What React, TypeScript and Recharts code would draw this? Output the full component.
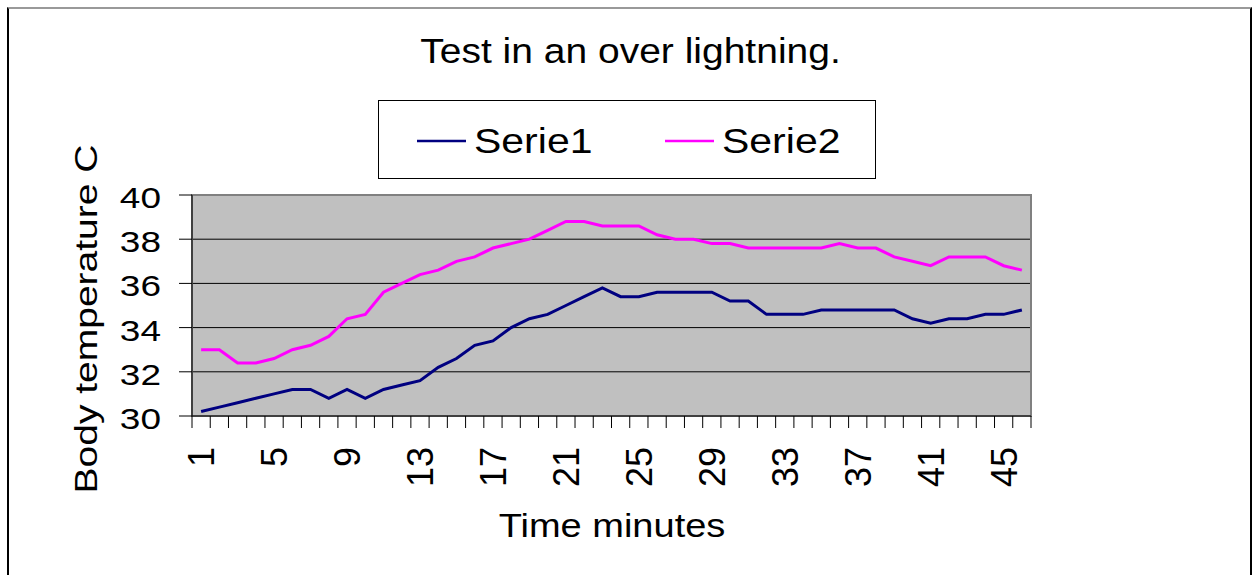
import { LineChart, Line, XAxis, YAxis, CartesianGrid, Legend, ReferenceArea } from 'recharts'

const FONT = '"Liberation Sans", Arial, sans-serif'

// minutes 1..46
const minutes = [
  1, 2, 3, 4, 5, 6, 7, 8, 9, 10, 11, 12, 13, 14, 15, 16, 17, 18, 19, 20, 21, 22, 23,
  24, 25, 26, 27, 28, 29, 30, 31, 32, 33, 34, 35, 36, 37, 38, 39, 40, 41, 42, 43, 44, 45, 46,
]
const serie1 = [
  30.2, 30.4, 30.6, 30.8, 31.0, 31.2, 31.2, 30.8, 31.2, 30.8, 31.2, 31.4, 31.6, 32.2, 32.6, 33.2,
  33.4, 34.0, 34.4, 34.6, 35.0, 35.4, 35.8, 35.4, 35.4, 35.6, 35.6, 35.6, 35.6, 35.2, 35.2, 34.6,
  34.6, 34.6, 34.8, 34.8, 34.8, 34.8, 34.8, 34.4, 34.2, 34.4, 34.4, 34.6, 34.6, 34.8,
]
const serie2 = [
  33.0, 33.0, 32.4, 32.4, 32.6, 33.0, 33.2, 33.6, 34.4, 34.6, 35.6, 36.0, 36.4, 36.6, 37.0, 37.2,
  37.6, 37.8, 38.0, 38.4, 38.8, 38.8, 38.6, 38.6, 38.6, 38.2, 38.0, 38.0, 37.8, 37.8, 37.6, 37.6,
  37.6, 37.6, 37.6, 37.8, 37.6, 37.6, 37.2, 37.0, 36.8, 37.2, 37.2, 37.2, 36.8, 36.6,
]
const xTickLabels = [1, 5, 9, 13, 17, 21, 25, 29, 33, 37, 41, 45]
const yTicks = [30, 32, 34, 36, 38, 40]

const data = minutes.map((m, i) => ({ minute: m, Serie1: serie1[i], Serie2: serie2[i] }))
// tick marks sit between the categories
const boundaries = [...minutes.map((m) => m - 0.5), minutes[minutes.length - 1] + 0.5]
const xDomain = [boundaries[0], boundaries[boundaries.length - 1]]

function YTick({ x, y, payload }: any) {
  return (
    <text transform={`translate(${x},${y + 13}) scale(1,0.82)`} textAnchor="end"
      fontSize={37} fontFamily={FONT} fill="#000">
      {payload.value}
    </text>
  )
}

function XTick({ x, y, payload }: any) {
  return (
    <text transform={`translate(${x + 13},${y + 19}) rotate(-90)`} textAnchor="end"
      fontSize={36} fontFamily={FONT} fill="#000">
      {payload.value}
    </text>
  )
}

function NoLabel() {
  return null
}

function LegendBox({ payload }: any) {
  return (
    <svg width={498} height={79} style={{ display: 'block' }}>
      <rect x={0.5} y={0.5} width={497} height={78} fill="#fff" stroke="#000" />
      {(payload ?? []).map((p: any, i: number) => {
        const lx = 39 + i * 248
        return (
          <g key={p.value}>
            <line x1={lx} x2={lx + 49} y1={41} y2={41} stroke={p.color} strokeWidth={2.5} />
            <text transform={`translate(${lx + 57},53) scale(1,0.85)`} fontSize={41}
              fontFamily={FONT} fill="#000">
              {p.value}
            </text>
          </g>
        )
      })}
    </svg>
  )
}

export default function App() {
  return (
    <div style={{ position: 'absolute', left: 0, top: 0, width: 1253, height: 575, overflow: 'hidden', background: '#fff' }}>
      <div style={{
        position: 'absolute', left: 7, top: 7, width: 1245, height: 600, boxSizing: 'border-box',
        borderLeft: '2px solid #000', borderRight: '2px solid #000', borderTop: '2px solid #999',
      }} />
      <LineChart width={1253} height={575} data={data}
        margin={{ top: 195, right: 222, left: 92, bottom: 47 }}>
        <CartesianGrid xAxisId="xb" vertical={false} stroke="#000" fill="#C0C0C0" fillOpacity={1} />
        <XAxis xAxisId="xb" dataKey="minute" type="number" domain={xDomain} ticks={xTickLabels}
          interval={0} height={100} tickLine={false} axisLine={false} tickSize={0} tickMargin={0}
          tick={<XTick />} />
        <XAxis xAxisId="xa" dataKey="minute" type="number" domain={xDomain} ticks={boundaries}
          interval={0} height={12} tick={<NoLabel />} tickSize={12} stroke="#000" />
        <YAxis domain={[30, 40]} ticks={yTicks} interval={0} width={100} tickSize={13} tickMargin={18}
          stroke="#000" tick={<YTick />} />
        <ReferenceArea xAxisId="xb" x1={xDomain[0]} x2={xDomain[1]} y1={30} y2={40}
          fill="none" stroke="#808080" strokeWidth={2} ifOverflow="visible" />
        <Legend layout="horizontal" verticalAlign="middle" align="center" content={<LegendBox />}
          wrapperStyle={{ left: 378, top: 100, width: 498, height: 79 }} />
        <Line xAxisId="xb" dataKey="Serie1" stroke="#000080" strokeWidth={3} dot={false}
          type="linear" isAnimationActive={false} />
        <Line xAxisId="xb" dataKey="Serie2" stroke="#FF00FF" strokeWidth={3} dot={false}
          type="linear" isAnimationActive={false} />
      </LineChart>
      <svg width={1253} height={575} style={{ position: 'absolute', left: 0, top: 0, pointerEvents: 'none' }}>
        <text transform="translate(630.5,63) scale(1,0.9)" textAnchor="middle" fontSize={39}
          fontFamily={FONT} fill="#000">
          Test in an over lightning.
        </text>
        <text transform="translate(612,537) scale(1,0.87)" textAnchor="middle" fontSize={38}
          fontFamily={FONT} fill="#000">
          Time minutes
        </text>
        <text transform="translate(97,319) rotate(-90) scale(1,0.78)" textAnchor="middle" fontSize={39}
          fontFamily={FONT} fill="#000">
          Body temperature C
        </text>
      </svg>
    </div>
  )
}
